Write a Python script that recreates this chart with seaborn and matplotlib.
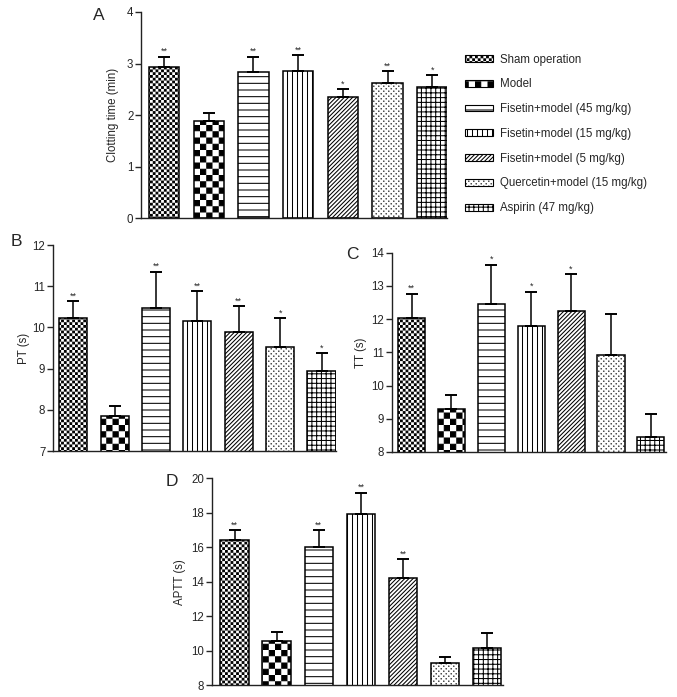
import numpy as np
import pandas as pd
import matplotlib
matplotlib.use("Agg")
import matplotlib.pyplot as plt
import seaborn as sns
from matplotlib import hatch as mhatch
from matplotlib.path import Path
from matplotlib.patches import Patch

# ---------------- data ----------------
groups = ["Sham operation", "Model", "Fisetin+model (45 mg/kg)",
          "Fisetin+model (15 mg/kg)", "Fisetin+model (5 mg/kg)",
          "Quercetin+model (15 mg/kg)", "Aspirin (47 mg/kg)"]

ct_mean = [2.94, 1.88, 2.83, 2.86, 2.35, 2.63, 2.55]
ct_err = [0.19, 0.16, 0.30, 0.30, 0.15, 0.22, 0.22]
ct_sig = ["**", "", "**", "**", "*", "**", "*"]

pt_mean = [10.24, 7.85, 10.46, 10.16, 9.88, 9.52, 8.94]
pt_err = [0.39, 0.24, 0.89, 0.72, 0.64, 0.70, 0.44]
pt_sig = ["**", "", "**", "**", "**", "*", "*"]

tt_mean = [12.04, 9.28, 12.46, 11.80, 12.25, 10.91, 8.46]
tt_err = [0.72, 0.44, 1.18, 1.03, 1.10, 1.23, 0.68]
tt_sig = ["**", "", "*", "*", "*", "", ""]

aptt_mean = [16.42, 10.54, 16.00, 17.92, 14.23, 9.26, 10.12]
aptt_err = [0.58, 0.56, 1.00, 1.25, 1.07, 0.39, 0.87]
aptt_sig = ["**", "", "**", "**", "**", "", ""]

# ---------------- custom hatch patterns ----------------
HLW = 0.75  # hatch linewidth in points


class HLines(mhatch.HatchPatternBase):
    def __init__(self, hatch, density):
        self.n = hatch.count("-")
        self.num_vertices = self.n * 2

    def set_vertices_and_codes(self, v, c):
        s = (np.arange(self.n) + 0.5) / self.n
        v[0::2, 0] = 0.0
        v[0::2, 1] = s
        v[1::2, 0] = 1.0
        v[1::2, 1] = s
        c[0::2] = Path.MOVETO
        c[1::2] = Path.LINETO


class VLines(mhatch.HatchPatternBase):
    def __init__(self, hatch, density):
        self.n = hatch.count("|")
        self.num_vertices = self.n * 2

    def set_vertices_and_codes(self, v, c):
        s = (np.arange(self.n) + 0.5) / self.n
        v[0::2, 1] = 0.0
        v[0::2, 0] = s
        v[1::2, 1] = 1.0
        v[1::2, 0] = s
        c[0::2] = Path.MOVETO
        c[1::2] = Path.LINETO


class Grid(mhatch.HatchPatternBase):
    def __init__(self, hatch, density):
        self.n = hatch.count("+")
        self.num_vertices = self.n * 4

    def set_vertices_and_codes(self, v, c):
        n = self.n
        s = (np.arange(n) + 0.5) / n
        h = v[: 2 * n]
        h[0::2, 0] = 0.0
        h[0::2, 1] = s
        h[1::2, 0] = 1.0
        h[1::2, 1] = s
        w = v[2 * n:]
        w[0::2, 1] = 0.0
        w[0::2, 0] = s
        w[1::2, 1] = 1.0
        w[1::2, 0] = s
        c[0::2] = Path.MOVETO
        c[1::2] = Path.LINETO


def _squares(centers, half):
    verts, codes = [], []
    for (x, y) in centers:
        verts += [(x - half, y - half), (x + half, y - half),
                  (x + half, y + half), (x - half, y + half), (x - half, y - half)]
        codes += [Path.MOVETO, Path.LINETO, Path.LINETO, Path.LINETO, Path.CLOSEPOLY]
    return np.array(verts), np.array(codes)


class Checker(mhatch.HatchPatternBase):
    def __init__(self, hatch, density):
        self.n = hatch.count("*")
        cells = [(i, j) for i in range(self.n) for j in range(self.n) if (i + j) % 2 == 0]
        self.cells = cells
        self.num_vertices = len(cells) * 5

    def set_vertices_and_codes(self, v, c):
        n = self.n
        shrink = HLW / 72.0 / 2.0
        half = max(0.5 / n - shrink, 0.0005)
        centers = [((i + 0.5) / n, (j + 0.5) / n) for (i, j) in self.cells]
        vv, cc = _squares(centers, half)
        v[:] = vv
        c[:] = cc


class Dots(mhatch.HatchPatternBase):
    def __init__(self, hatch, density):
        self.n = hatch.count("o")
        pts = []
        for j in range(self.n):
            for i in range(self.n):
                if (i + j) % 2 == 0:
                    pts.append(((i + 0.5) / self.n, (j + 0.5) / self.n))
        self.pts = pts
        self.num_vertices = len(pts) * 5

    def set_vertices_and_codes(self, v, c):
        vv, cc = _squares(self.pts, 0.0012)
        v[:] = vv
        c[:] = cc


mhatch._hatch_types[:] = [HLines, VLines, Grid, mhatch.NorthEastHatch, Checker, Dots]

hatches = ["*" * 36, "*" * 16, "-" * 15, "|" * 20, "/" * 8, "o" * 40, "+" * 21]

# ---------------- style ----------------
sns.set_theme(style="ticks")
plt.rcParams["font.family"] = ["Liberation Sans", "DejaVu Sans"]
plt.rcParams["hatch.linewidth"] = HLW
plt.rcParams["hatch.color"] = "black"
plt.rcParams["axes.linewidth"] = 1.0
plt.rcParams["axes.edgecolor"] = "#222222"

W, H = 677, 697
fig = plt.figure(figsize=(W / 100, H / 100), dpi=100)


def make_axes(l, r, t, b):
    return fig.add_axes([l / W, 1 - b / H, (r - l) / W, (b - t) / H])


def panel(ax, mean, err, sig, ylim, yticks, ylabel, xlim, letter, lpos, labelx):
    df = pd.DataFrame({"group": groups, "value": mean})
    sns.barplot(data=df, x="group", y="value", order=groups, color="white",
                edgecolor="black", linewidth=1.1, width=0.68, errorbar=None,
                saturation=1, ax=ax)
    for p, h in zip(ax.patches, hatches):
        p.set_facecolor("white")
        p.set_hatch(h)
    xs = np.arange(len(groups))
    ax.errorbar(xs, mean, yerr=[np.zeros(len(err)), err], fmt="none",
                ecolor="black", elinewidth=1.1, capsize=4.6, capthick=1.4, zorder=1)
    for x, m, e, s in zip(xs, mean, err, sig):
        if s:
            ax.annotate(s, (x, m + e), xytext=(0, 0.5), textcoords="offset points",
                        ha="center", va="bottom", fontsize=6.5)
    ax.set_ylim(*ylim)
    ax.set_yticks(yticks)
    ax.set_xlim(*xlim)
    ax.set_xticks([])
    ax.set_xlabel("")
    ax.set_ylabel(ylabel, fontsize=8.3)
    ax.yaxis.set_label_coords(labelx, 0.5)
    ax.tick_params(axis="y", labelsize=8.3, length=4, width=1.0, pad=1.5)
    sns.despine(ax=ax)
    ax.patch.set_alpha(0)
    fig.text(lpos[0] / W, 1 - lpos[1] / H, letter, fontsize=12.5,
             ha="center", va="center")


axA = make_axes(141, 447, 12, 218.3)
panel(axA, ct_mean, ct_err, ct_sig, (0, 4), [0, 1, 2, 3, 4],
      "Clotting time (min)", (-0.515, 6.33), "A", (99, 15), -0.0735)

axB = make_axes(53, 336, 245, 451)
panel(axB, pt_mean, pt_err, pt_sig, (7, 12), [7, 8, 9, 10, 11, 12],
      "PT (s)", (-0.49, 6.35), "B", (16, 242), -0.083)

axC = make_axes(392, 666, 252.7, 452)
panel(axC, tt_mean, tt_err, tt_sig, (8, 14), [8, 9, 10, 11, 12, 13, 14],
      "TT (s)", (-0.49, 6.38), "C", (352, 254), -0.093)

axD = make_axes(212, 503, 478.3, 685)
panel(axD, aptt_mean, aptt_err, aptt_sig, (8, 20), [8, 10, 12, 14, 16, 18, 20],
      "APTT (s)", (-0.54, 6.38), "D", (172, 481), -0.088)

handles = [Patch(facecolor="white", edgecolor="black", hatch=h, label=g, linewidth=0.8)
           for h, g in zip(hatches, groups)]
fig.legend(handles=handles, loc="upper left",
           bbox_to_anchor=(465 / W, 1 - 53.5 / H), frameon=False, fontsize=8.3,
           handlelength=2.4, handleheight=0.55, handletextpad=0.6,
           labelspacing=1.11, borderpad=0, borderaxespad=0)

fig.savefig("out.png", dpi=100)
